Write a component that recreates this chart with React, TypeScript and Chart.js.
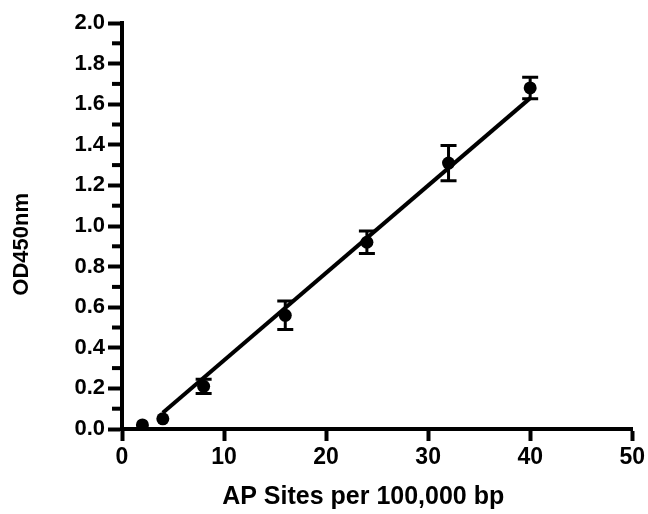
import React, { useEffect, useRef } from "react";
import { Chart, registerables } from "chart.js";

Chart.register(...registerables);

// ---- data ----
const apSites = [2, 4, 8, 16, 24, 32, 40];
const od450 = [0.02, 0.05, 0.21, 0.56, 0.92, 1.31, 1.68];
const odError = [0, 0, 0.035, 0.07, 0.055, 0.087, 0.053];
const fitX = [4, 40];
const fitY = [0.08, 1.63];
const yMinorTicks = [0.1, 0.3, 0.5, 0.7, 0.9, 1.1, 1.3, 1.5, 1.7, 1.9];
const xTitle = "AP Sites per 100,000 bp";
const yTitle = "OD450nm";

const FONT = "'Liberation Sans', Arial, Helvetica, sans-serif";

const errorBarPlugin = {
  id: "errorBars",
  afterDatasetsDraw(chart: any) {
    const { ctx, scales } = chart;
    const x = scales.x;
    const y = scales.y;
    ctx.save();
    ctx.strokeStyle = "#000";
    ctx.lineWidth = 3;
    apSites.forEach((v, i) => {
      const e = odError[i];
      if (!e) return;
      const px = x.getPixelForValue(v);
      const top = y.getPixelForValue(od450[i] + e);
      const bot = y.getPixelForValue(od450[i] - e);
      ctx.beginPath();
      ctx.moveTo(px, top);
      ctx.lineTo(px, bot);
      ctx.moveTo(px - 8, top);
      ctx.lineTo(px + 8, top);
      ctx.moveTo(px - 8, bot);
      ctx.lineTo(px + 8, bot);
      ctx.stroke();
    });
    ctx.restore();
  },
};

const minorTickPlugin = {
  id: "minorTicks",
  afterDraw(chart: any) {
    const { ctx, chartArea, scales } = chart;
    const y = scales.y;
    ctx.save();
    ctx.fillStyle = "#000";
    yMinorTicks.forEach((v) => {
      const py = y.getPixelForValue(v);
      ctx.fillRect(chartArea.left - 10, py - 2, 10, 4);
    });
    ctx.restore();
  },
};

export default function App() {
  const ref = useRef<HTMLCanvasElement | null>(null);

  useEffect(() => {
    if (!ref.current) return;
    const chart = new Chart(ref.current, {
      type: "scatter",
      data: {
        datasets: [
          {
            label: "fit",
            data: fitX.map((v, i) => ({ x: v, y: fitY[i] })),
            showLine: true,
            borderColor: "#000",
            borderWidth: 4,
            pointRadius: 0,
            fill: false,
          },
          {
            label: "OD450",
            data: apSites.map((v, i) => ({ x: v, y: od450[i] })),
            showLine: false,
            pointRadius: 6.5,
            pointBackgroundColor: "#000",
            pointBorderColor: "#000",
            pointBorderWidth: 0,
          },
        ],
      },
      options: {
        animation: false,
        responsive: true,
        maintainAspectRatio: false,
        layout: { padding: { top: 23, right: 14, left: 0, bottom: 0 } },
        plugins: {
          legend: { display: false },
          tooltip: { enabled: false },
        },
        scales: {
          x: {
            type: "linear",
            min: 0,
            max: 50,
            afterFit: (s: any) => {
              s.height = 85;
            },
            ticks: {
              stepSize: 10,
              color: "#000",
              padding: 3,
              font: { family: FONT, size: 23, weight: "bold" },
            },
            grid: {
              drawOnChartArea: false,
              drawTicks: true,
              tickLength: 12,
              tickWidth: 4,
              tickColor: "#000",
            },
            border: { display: true, width: 4, color: "#000" },
            title: {
              display: true,
              text: xTitle + "    ",
              color: "#000",
              padding: { top: 0, bottom: 2 },
              font: { family: FONT, size: 25, weight: "bold" },
            },
          },
          y: {
            type: "linear",
            min: 0,
            max: 2,
            afterFit: (s: any) => {
              s.width = 122;
            },
            ticks: {
              stepSize: 0.2,
              color: "#000",
              padding: 3,
              font: { family: FONT, size: 22, weight: "bold" },
              callback: (v: any) => Number(v).toFixed(1),
            },
            grid: {
              drawOnChartArea: false,
              drawTicks: true,
              tickLength: 14,
              tickWidth: 4,
              tickColor: "#000",
            },
            border: { display: true, width: 4, color: "#000" },
            title: {
              display: true,
              text: yTitle + "      ",
              color: "#000",
              padding: { top: 9, bottom: 0 },
              font: { family: FONT, size: 22, weight: "bold" },
            },
          },
        },
      },
      plugins: [errorBarPlugin, minorTickPlugin],
    } as any);
    return () => chart.destroy();
  }, []);

  return (
    <div style={{ position: "absolute", left: 0, top: 0, width: 648, height: 514 }}>
      <canvas ref={ref} />
    </div>
  );
}
